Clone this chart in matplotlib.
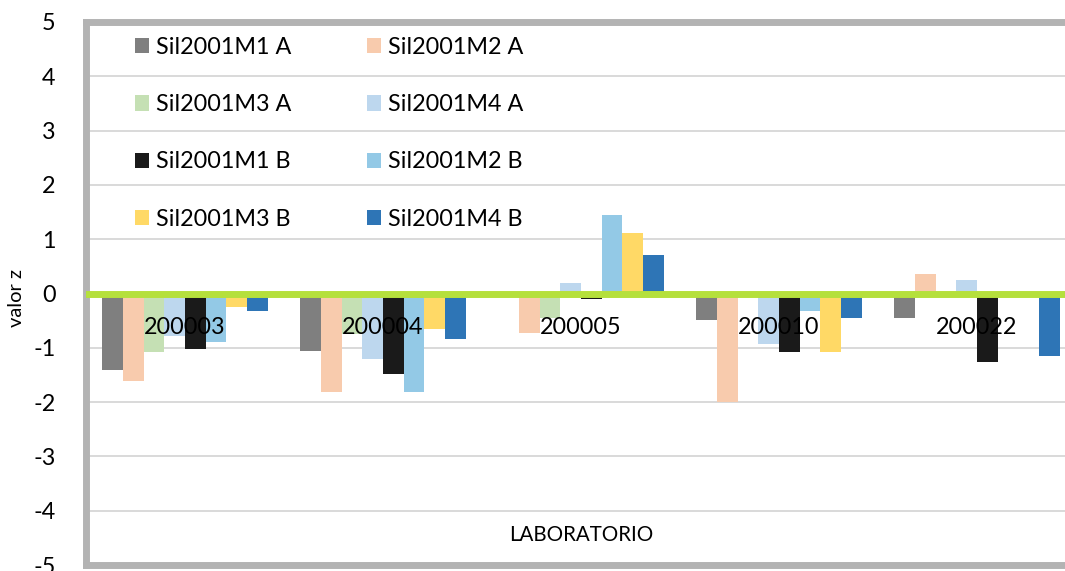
import matplotlib
matplotlib.use("Agg")
import matplotlib.pyplot as plt
import numpy as np
from matplotlib.patches import Patch

categories = ['200003', '200004', '200005', '200010', '200022']
series_names = ['Sil2001M1 A', 'Sil2001M2 A', 'Sil2001M3 A', 'Sil2001M4 A',
                'Sil2001M1 B', 'Sil2001M2 B', 'Sil2001M3 B', 'Sil2001M4 B']
m1a = [-1.41, -1.06, 0.00, -0.48, -0.46]
m2a = [-1.62, -1.82, -0.72, -2.00, 0.36]
m3a = [-1.08, -0.75, -0.45, 0.00, 0.00]
m4a = [-0.78, -1.21, 0.19, -0.93, 0.25]
m1b = [-1.02, -1.48, -0.11, -1.07, -1.27]
m2b = [-0.89, -1.81, 1.45, -0.33, -0.07]
m3b = [-0.25, -0.66, 1.11, -1.08, 0.00]
m4b = [-0.33, -0.83, 0.70, -0.46, -1.15]
series_values = [m1a, m2a, m3a, m4a, m1b, m2b, m3b, m4b]
colors = ['#7f7f7f', '#f8cbad', '#c5e0b4', '#bdd7ee',
          '#1a1a1a', '#93c9e6', '#ffd966', '#2e75b6']
yticks = [5, 4, 3, 2, 1, 0, -1, -2, -3, -4, -5]

FONT = 'Lato'
FS = 16.8
plt.rcParams['font.family'] = [FONT, 'DejaVu Sans']

W, H = 1065, 571
fig = plt.figure(figsize=(W / 100, H / 100), dpi=100)
ax = fig.add_axes([86 / W, 6 / H, 990 / W, 543 / H])

n = len(series_names)
width = 0.838 / n
x = np.arange(len(categories))
for i, (name, vals, c) in enumerate(zip(series_names, series_values, colors)):
    offs = (i - (n - 1) / 2) * width
    ax.bar(x + offs, vals, width=width, color=c, label=name, zorder=2)

ax.set_xlim(-0.5, len(categories) - 0.5)
ax.set_ylim(-5, 5)
ax.set_yticks(yticks)
ax.set_yticklabels([str(t) for t in yticks], fontsize=FS)
ax.set_xticks([])
ax.tick_params(axis='y', length=0, pad=22)
ax.grid(axis='y', color='#d9d9d9', linewidth=1.4, zorder=0)
ax.set_axisbelow(True)
for s in ax.spines.values():
    s.set_color('#b3b3b3')
    s.set_linewidth(5)
ax.axhline(0, color='#b5e03c', linewidth=5, zorder=3)

for xi, cat in zip(x, categories):
    ax.text(xi, -0.62, cat, ha='center', va='center', fontsize=FS, zorder=4)

ax.text(0.5, 0.055, 'LABORATORIO', transform=ax.transAxes, ha='center',
        va='center', fontsize=14.8)
fig.text(17 / W, 1 - 298 / H, 'valor z', rotation=90, ha='center',
         va='center', fontsize=14.5)

handles = [Patch(facecolor=c, edgecolor='none') for c in colors]
order = [0, 2, 4, 6, 1, 3, 5, 7]
leg = ax.legend([handles[i] for i in order], [series_names[i] for i in order],
                ncol=2, frameon=False, fontsize=FS, loc='upper left',
                bbox_to_anchor=(135 / W, 1 - 37 / H), bbox_transform=fig.transFigure,
                borderpad=0, borderaxespad=0, handlelength=0.62, handleheight=0.62,
                handletextpad=0.3, labelspacing=1.55, columnspacing=3.2)

fig.savefig('out.png', dpi=100)
